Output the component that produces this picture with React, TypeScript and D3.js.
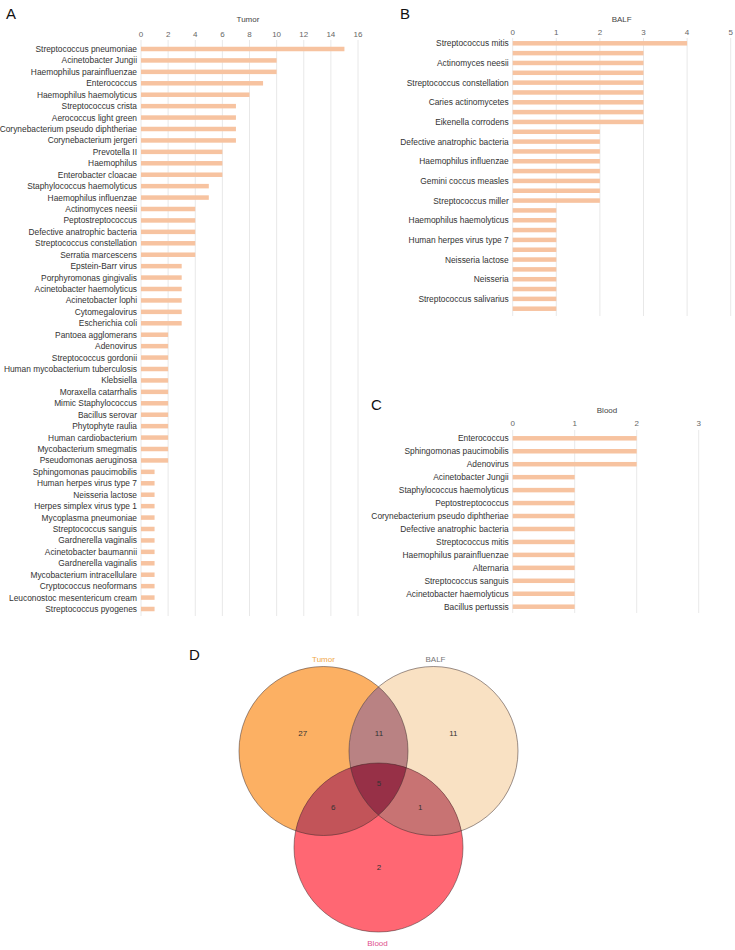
import * as d3 from "d3";
import React from "react";

// ---- data ----
const tumorNames = [
  "Streptococcus pneumoniae", "Acinetobacter Jungii", "Haemophilus parainfluenzae", "Enterococcus",
  "Haemophilus haemolyticus", "Streptococcus crista", "Aerococcus light green", "Corynebacterium pseudo diphtheriae",
  "Corynebacterium jergeri", "Prevotella II", "Haemophilus", "Enterobacter cloacae",
  "Staphylococcus haemolyticus", "Haemophilus influenzae", "Actinomyces neesii", "Peptostreptococcus",
  "Defective anatrophic bacteria", "Streptococcus constellation", "Serratia marcescens", "Epstein-Barr virus",
  "Porphyromonas gingivalis", "Acinetobacter haemolyticus", "Acinetobacter lophi", "Cytomegalovirus",
  "Escherichia coli", "Pantoea agglomerans", "Adenovirus", "Streptococcus gordonii",
  "Human mycobacterium tuberculosis", "Klebsiella", "Moraxella catarrhalis", "Mimic Staphylococcus",
  "Bacillus serovar", "Phytophyte raulia", "Human cardiobacterium", "Mycobacterium smegmatis",
  "Pseudomonas aeruginosa", "Sphingomonas paucimobilis", "Human herpes virus type 7", "Neisseria lactose",
  "Herpes simplex virus type 1", "Mycoplasma pneumoniae", "Streptococcus sanguis", "Gardnerella vaginalis",
  "Acinetobacter baumannii", "Gardnerella vaginalis", "Mycobacterium intracellulare", "Cryptococcus neoformans",
  "Leuconostoc mesentericum cream", "Streptococcus pyogenes",
];
const tumorValues = [
  15, 10, 10, 9, 8, 7, 7, 7, 7, 6, 6, 6, 5, 5, 4, 4, 4, 4, 4, 3, 3, 3, 3, 3, 3,
  2, 2, 2, 2, 2, 2, 2, 2, 2, 2, 2, 2, 1, 1, 1, 1, 1, 1, 1, 1, 1, 1, 1, 1, 1,
];
const tumorTicks = [0, 2, 4, 6, 8, 10, 12, 14, 16];

// BALF: only every other row carries a visible label in the source figure
const balfNames = [
  "Streptococcus mitis", "", "Actinomyces neesii", "", "Streptococcus constellation", "",
  "Caries actinomycetes", "", "Eikenella corrodens", "", "Defective anatrophic bacteria", "",
  "Haemophilus influenzae", "", "Gemini coccus measles", "", "Streptococcus miller", "",
  "Haemophilus haemolyticus", "", "Human herpes virus type 7", "", "Neisseria lactose", "",
  "Neisseria", "", "Streptococcus salivarius", "",
];
const balfValues = [4, 3, 3, 3, 3, 3, 3, 3, 3, 2, 2, 2, 2, 2, 2, 2, 2, 1, 1, 1, 1, 1, 1, 1, 1, 1, 1, 1];
const balfTicks = [0, 1, 2, 3, 4, 5];

const bloodNames = [
  "Enterococcus", "Sphingomonas paucimobilis", "Adenovirus", "Acinetobacter Jungii",
  "Staphylococcus haemolyticus", "Peptostreptococcus", "Corynebacterium pseudo diphtheriae",
  "Defective anatrophic bacteria", "Streptococcus mitis", "Haemophilus parainfluenzae", "Alternaria",
  "Streptococcus sanguis", "Acinetobacter haemolyticus", "Bacillus pertussis",
];
const bloodValues = [2, 2, 2, 1, 1, 1, 1, 1, 1, 1, 1, 1, 1, 1];
const bloodTicks = [0, 1, 2, 3];

const vennSets = ["Tumor", "BALF", "Blood"];
const vennCounts = { t: 27, b: 11, l: 2, tb: 11, tl: 6, bl: 1, tbl: 5 };

const FONT = "'Liberation Sans', Arial, Helvetica, sans-serif";
const BAR = "#f7c3a0";
const GRID = "#e2e2e2";

type BarProps = {
  title: string;
  names: string[];
  values: number[];
  ticks: number[];
  x0: number; x1: number;
  y0: number; y1: number;
  gridTop: number; gridBottom: number;
  titleX: number; titleY: number; tickY: number;
};

const BarPanel = (p: BarProps) => {
  const x = d3.scaleLinear([p.ticks[0], p.ticks[p.ticks.length - 1]], [p.x0, p.x1]);
  const y = d3.scalePoint<number>(d3.range(p.names.length), [p.y0, p.y1]);
  const bh = 4.5;
  return (
    <g>
      <text x={p.titleX} y={p.titleY} textAnchor="middle" fontSize={8} fill="#444">{p.title}</text>
      {p.ticks.map((t) => (
        <g key={t}>
          <line x1={x(t)} x2={x(t)} y1={p.gridTop} y2={p.gridBottom} stroke={GRID} strokeWidth={0.8} />
          <text x={x(t)} y={p.tickY} textAnchor="middle" fontSize={8} fill="#666">{t}</text>
        </g>
      ))}
      {p.values.map((v, i) => (
        <rect key={i} x={x(0)} y={y(i)! - bh / 2} width={x(v) - x(0)} height={bh} fill={BAR} />
      ))}
      {p.names.map((n, i) => n ? (
        <text key={i} x={x(0) - 4} y={y(i)! + 3} textAnchor="end" fontSize={8.4} fill="#333">{n}</text>
      ) : null)}
    </g>
  );
};

const Venn = () => {
  const r = 84.5;
  const c = [
    { x: 323.5, y: 751 },
    { x: 433.5, y: 751 },
    { x: 378.5, y: 847.5 },
  ];
  const base = ["#fcb063", "#f9e1c3", "#ff6773"];
  const labelColor = ["#f0a848", "#777777", "#e0508c"];
  const circ = (i: number, props: any = {}) => <circle cx={c[i].x} cy={c[i].y} r={r} {...props} />;
  return (
    <g>
      <defs>
        <clipPath id="cT">{circ(0)}</clipPath>
        <clipPath id="cB">{circ(1)}</clipPath>
        <clipPath id="cTB"><circle cx={c[1].x} cy={c[1].y} r={r} clipPath="url(#cT)" /></clipPath>
      </defs>
      {base.map((col, i) => <g key={i}>{circ(i, { fill: col })}</g>)}
      <g clipPath="url(#cT)">{circ(1, { fill: "#b98283" })}</g>
      <g clipPath="url(#cT)">{circ(2, { fill: "#c25459" })}</g>
      <g clipPath="url(#cB)">{circ(2, { fill: "#c87373" })}</g>
      <g clipPath="url(#cTB)">{circ(2, { fill: "#973047" })}</g>
      {[0, 1, 2].map((i) => <g key={i}>{circ(i, { fill: "none", stroke: "#3a2a2a", strokeWidth: 0.5 })}</g>)}
      <text x={c[0].x} y={c[0].y - r - 5} textAnchor="middle" fontSize={8} fill={labelColor[0]}>{vennSets[0]}</text>
      <text x={c[1].x + 2} y={c[1].y - r - 5} textAnchor="middle" fontSize={8} fill={labelColor[1]}>{vennSets[1]}</text>
      <text x={c[2].x - 1} y={c[2].y + r + 14} textAnchor="middle" fontSize={8} fill={labelColor[2]}>{vennSets[2]}</text>
      <g fontSize={8} fill="#333" textAnchor="middle">
        <text x={302.7} y={736}>{vennCounts.t}</text>
        <text x={379} y={736}>{vennCounts.tb}</text>
        <text x={453.3} y={736}>{vennCounts.b}</text>
        <text x={379} y={785.5}>{vennCounts.tbl}</text>
        <text x={333.3} y={810}>{vennCounts.tl}</text>
        <text x={420.3} y={810}>{vennCounts.bl}</text>
        <text x={379} y={869.5}>{vennCounts.l}</text>
      </g>
    </g>
  );
};

export default function App() {
  return (
    <svg width={735} height={950} style={{ position: "absolute", left: 0, top: 0, background: "#fff" }} fontFamily={FONT}>
      <rect width={735} height={950} fill="#fff" />
      <g fontSize={15} fill="#111">
        <text x={6} y={19}>A</text>
        <text x={400} y={18.5}>B</text>
        <text x={371} y={409.5}>C</text>
        <text x={189} y={660}>D</text>
      </g>
      <BarPanel title="Tumor" names={tumorNames} values={tumorValues} ticks={tumorTicks}
        x0={141} x1={358} y0={49} y1={609} gridTop={40} gridBottom={616}
        titleX={248} titleY={22} tickY={37} />
      <BarPanel title="BALF" names={balfNames} values={balfValues} ticks={balfTicks}
        x0={512.7} x1={730.7} y0={43.3} y1={308.7} gridTop={38} gridBottom={316}
        titleX={621.7} titleY={22} tickY={35} />
      <BarPanel title="Blood" names={bloodNames} values={bloodValues} ticks={bloodTicks}
        x0={512.7} x1={698.7} y0={438.3} y1={606.7} gridTop={430} gridBottom={613}
        titleX={607} titleY={412.7} tickY={425.7} />
      <Venn />
    </svg>
  );
}
